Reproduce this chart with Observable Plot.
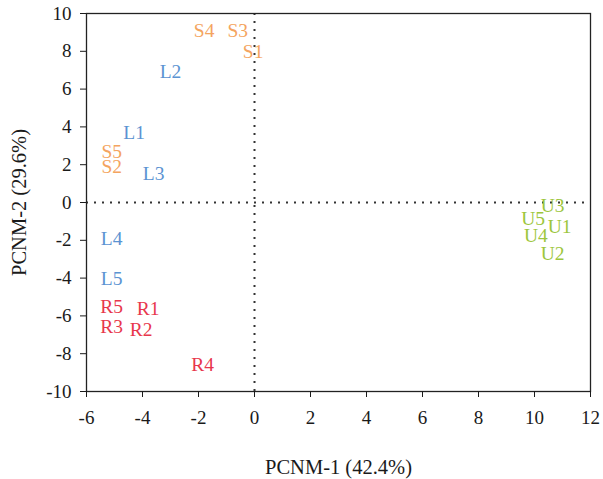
<!DOCTYPE html>
<html>
<head>
<meta charset="utf-8">
<script src="https://cdn.jsdelivr.net/npm/d3@7"></script>
<script src="https://cdn.jsdelivr.net/npm/@observablehq/plot@0.6"></script>
<style>
  html, body { margin: 0; padding: 0; background: #fff; }
  #chart svg { display: block; }
</style>
</head>
<body>
<div id="chart"></div>
<script>
const names  = ["S1","S2","S3","S4","S5","L1","L2","L3","L4","L5","R1","R2","R3","R4","R5","U1","U2","U3","U4","U5"];
const groups = ["S","S","S","S","S","L","L","L","L","L","R","R","R","R","R","U","U","U","U","U"];
const pcnm1  = [-0.05,-5.1,-0.6,-1.8,-5.1,-4.3,-3.0,-3.6,-5.1,-5.1,-3.8,-4.05,-5.1,-1.85,-5.1,10.9,10.65,10.65,10.05,9.95];
const pcnm2  = [8.0,1.9,9.1,9.1,2.7,3.7,6.9,1.5,-1.9,-4.05,-5.6,-6.75,-6.6,-8.6,-5.5,-1.3,-2.7,-0.15,-1.75,-0.85];
const groupDomain = ["S","L","R","U"];
const groupColors = ["#f4a460","#5b93d2","#e8374c","#9cc63c"];
const xTicks = [-6,-4,-2,0,2,4,6,8,10,12];
const yTicks = [-10,-8,-6,-4,-2,0,2,4,6,8,10];

const data = names.map((n, i) => ({name: n, group: groups[i], x: pcnm1[i], y: pcnm2[i]}));

const chart = Plot.plot({
  width: 603,
  height: 479,
  marginLeft: 86,
  marginRight: 13,
  marginTop: 13,
  marginBottom: 88,
  style: {fontFamily: "'Liberation Serif', 'DejaVu Serif', serif", fontSize: "19px", color: "#1a1a1a", background: "#fff"},
  x: {domain: [-6, 12]},
  y: {domain: [-10, 10]},
  color: {domain: groupDomain, range: groupColors},
  marks: [
    Plot.ruleX([0], {stroke: "#333", strokeWidth: 2, strokeDasharray: "2 6"}),
    Plot.ruleY([0], {stroke: "#333", strokeWidth: 2, strokeDasharray: "2 6"}),
    Plot.frame({stroke: "#222", strokeWidth: 1.3}),
    Plot.axisX({ticks: xTicks, tickSize: 6, tickPadding: 13, tickFormat: d => String(d), fontSize: 19,
      label: "PCNM-1 (42.4%)", labelAnchor: "center", labelArrow: "none", labelOffset: 82}),
    Plot.axisY({ticks: yTicks, tickSize: 6, tickPadding: 9, tickFormat: d => String(d), fontSize: 19,
      label: "PCNM-2 (29.6%)", labelAnchor: "center", labelArrow: "none", labelOffset: 75}),
    Plot.text(data, {x: "x", y: "y", text: "name", fill: "group", fontSize: 19.5})
  ]
});
document.getElementById("chart").appendChild(chart);
// enlarge axis titles slightly to match the reference
d3.select(chart).selectAll("g[aria-label='x-axis label'] text, g[aria-label='y-axis label'] text")
  .style("font-size", "20.5px");
</script>
</body>
</html>
